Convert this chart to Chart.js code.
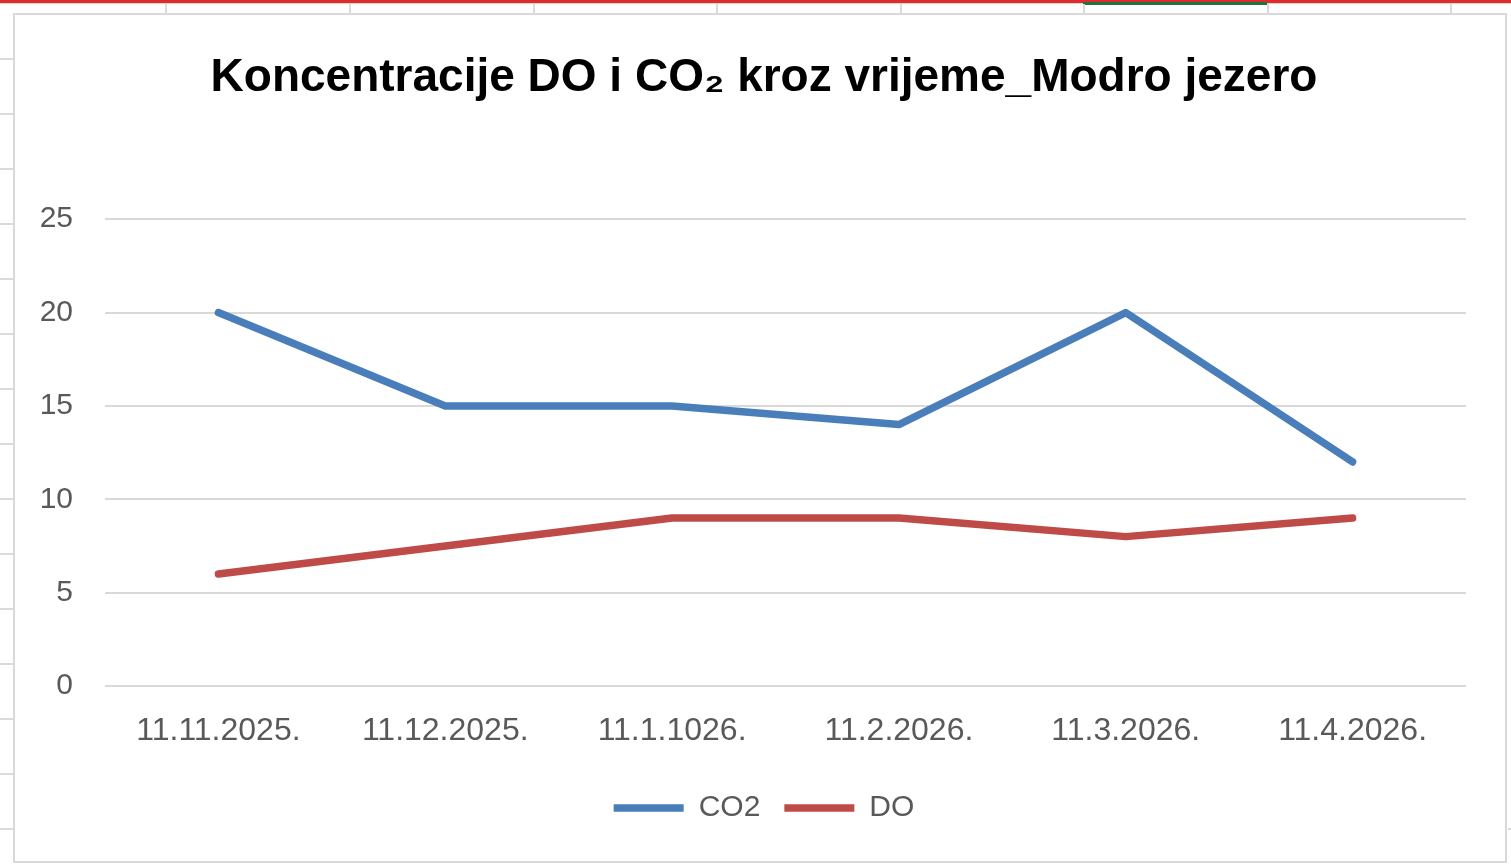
<!DOCTYPE html>
<html>
<head>
<meta charset="utf-8">
<script src="https://cdn.jsdelivr.net/npm/chart.js@4/dist/chart.umd.min.js"></script>
<style>
  html, body { margin: 0; padding: 0; background: #ffffff; }
  body { width: 1511px; height: 865px; position: relative; overflow: hidden; }
  .redTop { position: absolute; left: 0; top: 0; width: 1511px; height: 3px; background: #e02b2b; }
  .greyTop { position: absolute; left: 0; top: 3px; width: 1511px; height: 1px; background: #d4d4d4; }
  .greenSel { position: absolute; left: 1083px; top: 2px; width: 184px; height: 3px; background: #217346; }
  .colLine { position: absolute; top: 4px; width: 2px; height: 10px; background: #dadada; }
  .rowLine { position: absolute; left: 0; width: 13px; height: 2px; background: #dadada; }
  .rowLineR { position: absolute; left: 1508px; width: 3px; height: 2px; background: #dadada; }
  #box {
    position: absolute; left: 13px; top: 13px;
    width: 1490px; height: 846px;
    border: 2px solid #d9d9d9; background: #fff;
  }
  canvas { display: block; }
</style>
</head>
<body>
<div class="redTop"></div>
<div class="greyTop"></div>
<div class="greenSel"></div>
<div id="sheet"></div>
<div id="box"><canvas id="chart" width="1490" height="846"></canvas></div>
<script>
// spreadsheet cells behind the chart
const sheet = document.getElementById('sheet');
[165, 349, 533, 716, 900, 1083, 1267, 1450].forEach(x => {
    const d = document.createElement('div');
    d.className = 'colLine';
    d.style.left = x + 'px';
    sheet.appendChild(d);
});
[58, 113, 168, 223, 278, 333, 388, 443, 498, 553, 608, 663, 718, 773, 828].forEach(y => {
    const d = document.createElement('div');
    d.className = 'rowLine';
    d.style.top = y + 'px';
    sheet.appendChild(d);
});
const r = document.createElement('div');
r.className = 'rowLineR';
r.style.top = '828px';
sheet.appendChild(r);

const dates = ['11.11.2025.', '11.12.2025.', '11.1.1026.', '11.2.2026.', '11.3.2026.', '11.4.2026.'];
const co2 = [20, 15, 15, 14, 20, 12];
const dissolvedO2 = [6, 7.5, 9, 9, 8, 9];
const yTicks = [0, 5, 10, 15, 20, 25];

const labelGrey = '#595959';
const baseFont = 'Liberation Sans, Arial, sans-serif';

// Excel centres title and legend a bit right of the canvas middle
const centreShift = {
    id: 'centreShift',
    afterLayout(chart) {
        if (chart.titleBlock) chart.titleBlock.left += 47;
        if (chart.legend) chart.legend.left += 47;
    }
};

const ctx = document.getElementById('chart').getContext('2d');

const chart = new Chart(ctx, {
    type: 'line',
    data: {
        labels: dates,
        datasets: [{
            label: 'CO2',
            data: co2,
            borderColor: '#4a7ebb',
            backgroundColor: '#4a7ebb',
            borderWidth: 7.5,
            borderCapStyle: 'round',
            borderJoinStyle: 'round',
            pointRadius: 0,
            fill: false
        },
        {
            label: 'DO',
            data: dissolvedO2,
            borderColor: '#be4b48',
            backgroundColor: '#be4b48',
            borderWidth: 7.5,
            borderCapStyle: 'round',
            borderJoinStyle: 'round',
            pointRadius: 0,
            fill: false
        }]
    },
    plugins: [centreShift],
    options: {
        responsive: false,
        animation: false,
        layout: {
            padding: { left: 0, right: 39, top: 0, bottom: 28 }
        },
        plugins: {
            title: {
                display: true,
                text: 'Koncentracije DO i CO₂ kroz vrijeme_Modro jezero',
                color: '#000000',
                font: { family: baseFont, size: 46, weight: 'bold' },
                padding: { top: 36, bottom: 113 }
            },
            legend: {
                position: 'bottom',
                labels: {
                    usePointStyle: true,
                    pointStyle: 'line',
                    pointStyleWidth: 70,
                    padding: 24,
                    color: labelGrey,
                    font: { family: baseFont, size: 30 }
                }
            },
            tooltip: { enabled: false }
        },
        scales: {
            x: {
                offset: true,
                grid: { display: false, drawTicks: false },
                border: { display: false },
                ticks: {
                    color: labelGrey,
                    padding: 26,
                    maxRotation: 0,
                    font: { family: baseFont, size: 32 }
                },
                afterFit: s => { s.height = 83; }
            },
            y: {
                min: 0,
                max: 25,
                afterBuildTicks: s => { s.ticks = yTicks.map(v => ({ value: v })); },
                grid: { color: '#d9d9d9', lineWidth: 2, drawTicks: false },
                border: { display: false },
                ticks: {
                    color: labelGrey,
                    padding: 32,
                    font: { family: baseFont, size: 30 }
                },
                afterFit: s => { s.width = 90; }
            }
        }
    }
});
</script>
</body>
</html>
